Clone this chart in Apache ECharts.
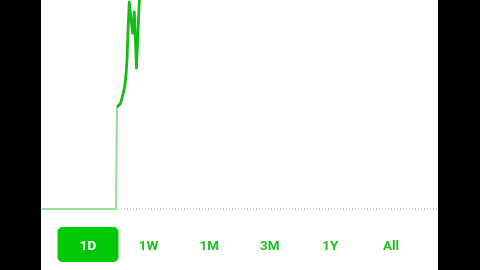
<!DOCTYPE html>
<html>
<head>
<meta charset="utf-8">
<script src="https://cdn.jsdelivr.net/npm/echarts@6/dist/echarts.min.js"></script>
<style>
html,body{margin:0;padding:0;width:480px;height:270px;background:#000;overflow:hidden}
#c{position:absolute;left:41px;top:0;width:397px;height:270px;background:#fff}
</style>
</head>
<body>
<div id="c"></div>
<script>
// Time slot index (one slot per step across the trading session)
var extendedX = [1, 75, 76];
var extendedY = [1.00, 1.00, 1.976];
var regularX = [76, 77.7, 79.5, 81, 83.7, 85, 86, 87, 88.3, 90, 91.7, 93.3, 95.5, 97, 98.6];
var regularY = [1.976, 1.995, 2.01, 2.062, 2.167, 2.28, 2.426, 2.70, 2.981, 2.82, 2.684, 2.885, 2.349, 2.70, 3.05];
var prevCloseX = [77, 397];
var prevClose = 1.00;
var ranges = ['1D', '1W', '1M', '3M', '1Y', 'All'];
var selectedRange = '1D';

function pairs(xs, ys) { return xs.map(function (x, i) { return [x, ys[i]]; }); }

var chart = echarts.init(document.getElementById('c'), null, { renderer: 'canvas' });

var graphics = [];
ranges.forEach(function (r, i) {
  var cx = 47 + i * 60.6;
  if (r === selectedRange) {
    graphics.push({ type: 'rect', shape: { x: cx - 30.5, y: 227, width: 61, height: 35, r: 5 },
      style: { fill: '#00c805' }, z: 100 });
  }
  graphics.push({ type: 'text', x: cx, y: 246.5, z: 101,
    style: { text: r, fill: r === selectedRange ? '#ffffff' : '#1fc11f',
      font: 'bold 13.5px Roboto, "Liberation Sans", sans-serif', align: 'center', verticalAlign: 'middle' } });
});

chart.setOption({
  animation: false,
  backgroundColor: '#fff',
  grid: { left: 0, right: 0, top: 0, bottom: 50.55 },
  xAxis: { type: 'value', min: 0, max: 397, show: false },
  yAxis: { type: 'value', min: 0.9, max: 3.0, show: false },
  graphic: graphics,
  series: [
    { type: 'line', data: pairs(prevCloseX, [prevClose, prevClose]), symbol: 'none',
      lineStyle: { color: '#9a9a9a', width: 1, type: [1, 2] }, z: 1 },
    { type: 'line', data: pairs(extendedX, extendedY), symbol: 'none',
      lineStyle: { color: '#98e298', width: 2.2 }, z: 2 },
    { type: 'line', data: pairs(regularX, regularY), symbol: 'none', clip: true,
      lineStyle: { color: '#14bc14', width: 2.8, join: 'round' }, z: 3 }
  ]
});
</script>
</body>
</html>
